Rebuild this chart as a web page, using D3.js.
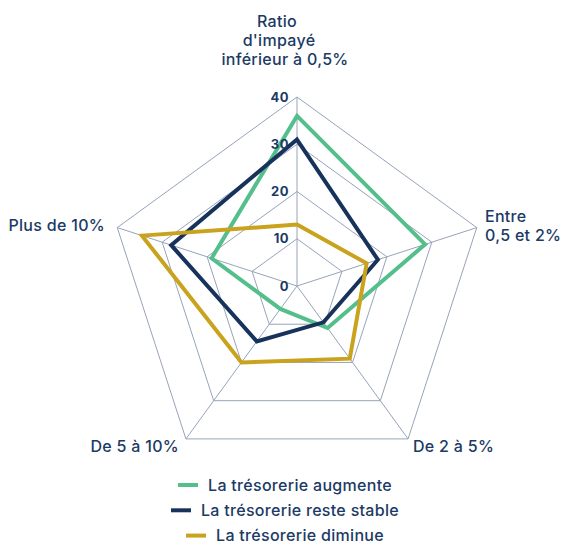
<!DOCTYPE html>
<html>
<head>
<meta charset="utf-8">
<script src="https://cdn.jsdelivr.net/npm/d3@7"></script>
<style>
html,body{margin:0;padding:0;background:#fff;}
svg{display:block;font-family:Inter,"Open Sans",sans-serif;}
</style>
</head>
<body>
<svg id="chart" width="563" height="545"></svg>
<script>
const axes = [
  ["Ratio", "d'impayé", "inférieur à 0,5%"],
  ["Entre", "0,5 et 2%"],
  ["De 2 à 5%"],
  ["De 5 à 10%"],
  ["Plus de 10%"]
];
const seriesNames = ["La trésorerie augmente", "La trésorerie reste stable", "La trésorerie diminue"];
const augmente = [36, 28.5, 11, 6, 19];
const stable   = [31, 18, 9.5, 14.5, 28];
const diminue  = [13, 15.5, 19, 20, 34.5];
const tickValues = [0, 10, 20, 30, 40];
const colors = ["#55bf8b", "#17335c", "#c9a31d"];

const svg = d3.select("#chart");
const cx = 297, cy = 286, R = 189;
const textColor = "#1b3a64";
const gridColor = "#97a3ba";

const r = d3.scaleLinear().domain([0, 40]).range([0, R]);
const angle = d3.scaleLinear().domain([0, axes.length]).range([0, 2 * Math.PI]);

const g = svg.append("g").attr("transform", `translate(${cx},${cy})`);

const pt = (i, v) => {
  const a = angle(i);
  return [r(v) * Math.sin(a), -r(v) * Math.cos(a)];
};

// grid rings
tickValues.filter(t => t > 0).forEach(t => {
  g.append("path")
    .attr("d", d3.line()(axes.map((_, i) => pt(i, t))) + "Z")
    .attr("fill", "none")
    .attr("stroke", gridColor)
    .attr("stroke-width", 1);
});
// spokes
axes.forEach((_, i) => {
  const [x, y] = pt(i, 40);
  g.append("line").attr("x1", 0).attr("y1", 0).attr("x2", x).attr("y2", y)
    .attr("stroke", gridColor).attr("stroke-width", 1);
});

// series
const allSeries = [augmente, stable, diminue];
allSeries.forEach((vals, s) => {
  g.append("path")
    .attr("d", d3.line()(vals.map((v, i) => pt(i, v))) + "Z")
    .attr("fill", "none")
    .attr("stroke", colors[s])
    .attr("stroke-width", 4)
    .attr("stroke-linejoin", "miter");
});

// tick labels
tickValues.forEach(t => {
  g.append("text")
    .attr("x", -8)
    .attr("y", -r(t))
    .attr("dy", "0.35em")
    .attr("text-anchor", "end")
    .attr("font-size", 13)
    .attr("font-weight", 700)
    .attr("letter-spacing", 0.5)
    .attr("fill", textColor)
    .text(t);
});

// axis labels
const labelSpecs = [
  {x: [277, 279, 285], y: 27, anchor: "middle"},
  {x: [485, 485], y: 222, anchor: "start"},
  {x: [413], y: 452, anchor: "start"},
  {x: [179], y: 452, anchor: "end"},
  {x: [105], y: 231, anchor: "end"}
];
axes.forEach((lines, i) => {
  const sp = labelSpecs[i];
  const t = svg.append("text")
    .attr("y", sp.y)
    .attr("text-anchor", sp.anchor)
    .attr("font-size", 16)
    .attr("font-weight", 500)
    .attr("letter-spacing", 0.3)
    .attr("fill", textColor);
  lines.forEach((l, k) => {
    t.append("tspan").attr("x", sp.x[k]).attr("dy", k === 0 ? 0 : 19).text(l);
  });
});

// legend
const legend = svg.append("g");
seriesNames.forEach((name, s) => {
  const y = 485 + s * 25.3;
  const item = legend.append("g");
  const txt = item.append("text")
    .attr("x", 30).attr("y", y).attr("dy", "0.35em")
    .attr("font-size", 16).attr("font-weight", 500)
    .attr("letter-spacing", 0.3)
    .attr("fill", textColor).text(name);
  const w = txt.node().getComputedTextLength();
  item.append("line").attr("x1", 0).attr("x2", 20).attr("y1", y).attr("y2", y)
    .attr("stroke", colors[s]).attr("stroke-width", 4);
  const total = 30 + w;
  item.attr("transform", `translate(${285 - total / 2},0)`);
});
</script>
</body>
</html>
